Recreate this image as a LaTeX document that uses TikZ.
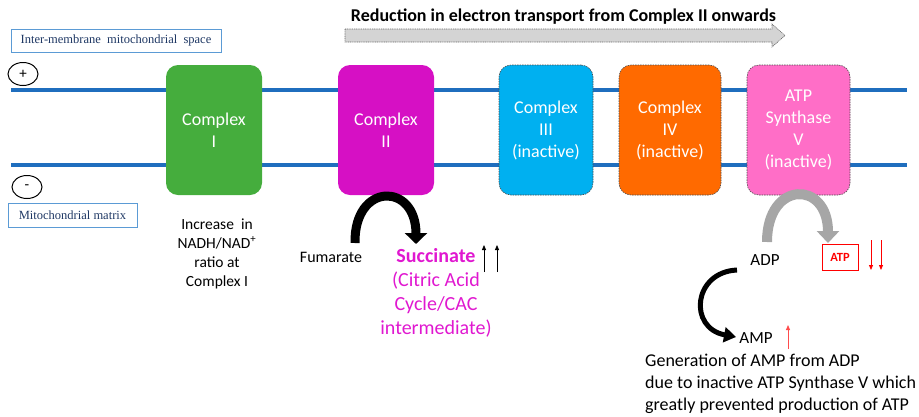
\documentclass[tikz,border=0pt]{standalone}
\usepackage{fontspec}
\setmainfont{Carlito}
\newfontfamily\timesfont{Liberation Serif}
\usetikzlibrary{arrows.meta,shapes.geometric}
\definecolor{membrane}{RGB}{31,110,190}
\definecolor{cIgreen}{RGB}{69,173,61}
\definecolor{cIImagenta}{RGB}{214,16,196}
\definecolor{cIIIcyan}{RGB}{0,176,240}
\definecolor{cIVorange}{RGB}{255,106,0}
\definecolor{cVpink}{RGB}{255,110,199}
\definecolor{succmagenta}{RGB}{224,24,208}
\definecolor{labeltext}{RGB}{31,56,100}
\definecolor{labelborder}{RGB}{91,155,213}
\definecolor{arrowgray}{RGB}{166,166,166}
\begin{document}
\begin{tikzpicture}[x=1pt,y=-1pt]
    \useasboundingbox (0,0) rectangle (919,416);
    \begin{scope}
        \tikzset{complex box/.style={rounded corners=12pt, minimum width=96pt, minimum height=130pt, inner sep=0pt, text=white, align=center, font=\fontsize{18}{22}\selectfont},
                 inactive box/.style={complex box, draw=black!70, dash pattern=on 1.5pt off 1pt, line width=0.6pt},
                 space label/.style={draw=labelborder, line width=0.8pt, text=labeltext, inner sep=0pt, font=\timesfont\fontsize{12.5}{14}\selectfont},
                 pole/.style={draw, ellipse, line width=1pt, minimum width=30pt, minimum height=23pt, inner sep=0pt, font=\fontsize{15}{15}\selectfont},
                 plain text/.style={align=center, inner sep=0pt},
                 bend arrow/.style={line width=9pt}}
        % Draw the membranes
        \coordinate (topL) at (11,90);
        \coordinate (topR) at (907,90);
        \coordinate (botL) at (11,165);
        \coordinate (botR) at (907,165);
        \draw [membrane, line width=4pt] (topL) -- (topR);
        \draw [membrane, line width=4pt] (botL) -- (botR);

        % Label the two sides
        \node [space label, minimum width=210pt, minimum height=23pt] (ims) at (116,40.5) {Inter-membrane\ \ mitochondrial\ \ space};
        \node [space label, minimum width=129pt, minimum height=24pt] (mat) at (72.5,215) {Mitochondrial matrix};
        \node [pole] (plus) at (23,74) {+};
        \node [pole] (minus) at (27,187) {-};

        % Draw the complexes
        \node [complex box, fill=cIgreen] (c1) at (214,130) {Complex\\I};
        \node [complex box, fill=cIImagenta] (c2) at (386,130) {Complex\\II};
        \node [inactive box, fill=cIIIcyan, minimum width=94pt] (c3) at (546,130) {Complex\\III\\(inactive)};
        \node [inactive box, fill=cIVorange, minimum width=102pt] (c4) at (670,130) {Complex\\IV\\(inactive)};
        \node [inactive box, fill=cVpink, minimum width=103pt] (c5) at (798.5,130) {ATP\\Synthase\\V\\(inactive)};

        % Reduction arrow on top
        \node [plain text, font=\bfseries\fontsize{18}{20}\selectfont] (title) at (563.5,17) {Reduction in electron transport from Complex II onwards};
        \draw [fill=black!17, draw=black!60, dash pattern=on 1pt off 0.8pt, line width=0.6pt]
            (345,29) -- (772,29) -- (772,24) -- (785,35.5) -- (772,47) -- (772,42) -- (345,42) -- cycle;

        % Complex I
        \node [plain text, font=\fontsize{15.5}{19}\selectfont] (nadh) at (217,253.5) {Increase\ \ in\\NADH/NAD\textsuperscript{+}\\ratio at\\Complex I};

        % Complex II: fumarate to succinate
        \node [plain text, font=\fontsize{16}{18}\selectfont] (fum) at (331,257) {Fumarate};
        \node [plain text, text=succmagenta, font=\fontsize{20}{24}\selectfont] (succ) at (436,293) {\textbf{Succinate}\\(Citric Acid\\Cycle/CAC\\intermediate)};
        \coordinate (fumS) at (355,243);
        \coordinate (sucE) at (416,244);
        \draw [bend arrow, -{Triangle[width=22pt,length=11pt]}] (fumS) .. controls (354,182) and (416,182) .. (sucE);
        \coordinate (up1a) at (484,272);
        \coordinate (up1b) at (484,245);
        \coordinate (up2a) at (497,272);
        \coordinate (up2b) at (497,245);
        \draw [line width=0.8pt, -{Triangle[width=4pt,length=5pt]}] (up1a) -- (up1b);
        \draw [line width=0.8pt, -{Triangle[width=4pt,length=5pt]}] (up2a) -- (up2b);

        % ATP synthase: ADP, ATP, AMP
        \node [plain text, font=\fontsize{17}{20}\selectfont] (adp) at (765,260) {ADP};
        \node [draw=red, line width=0.8pt, text=red, minimum width=36pt, minimum height=26pt, inner sep=0pt, font=\bfseries\fontsize{12.5}{14}\selectfont] (atp) at (840,257) {ATP};
        \coordinate (adpS) at (767,242);
        \coordinate (atpE) at (828,243);
        \draw [arrowgray, line width=10pt, -{Triangle[width=22pt,length=12pt]}] (adpS) .. controls (767,180) and (828,180) .. (atpE);
        \coordinate (dn1a) at (871,240);
        \coordinate (dn1b) at (871,270);
        \coordinate (dn2a) at (881,240);
        \coordinate (dn2b) at (881,270);
        \draw [red, line width=0.8pt, -{Triangle[width=4pt,length=5pt]}] (dn1a) -- (dn1b);
        \draw [red, line width=0.8pt, -{Triangle[width=4pt,length=5pt]}] (dn2a) -- (dn2b);
        \node [plain text, font=\fontsize{17}{20}\selectfont] (amp) at (756,338) {AMP};
        \coordinate (adpW) at (737,270);
        \coordinate (ampW) at (736,337);
        \draw [line width=5pt, -{Triangle[width=15pt,length=12pt]}] (adpW) .. controls (693,272) and (688,328) .. (ampW);
        \coordinate (up3a) at (788,349);
        \coordinate (up3b) at (788,325);
        \draw [red!70, line width=0.8pt, -{Triangle[width=4pt,length=5pt]}] (up3a) -- (up3b);
        \node [plain text, align=left, anchor=west, font=\fontsize{18}{22}\selectfont] (gen) at (645,384) {Generation of AMP from ADP\\due to inactive ATP Synthase V which\\greatly prevented production of ATP};
    \end{scope}
\end{tikzpicture}
\end{document}
